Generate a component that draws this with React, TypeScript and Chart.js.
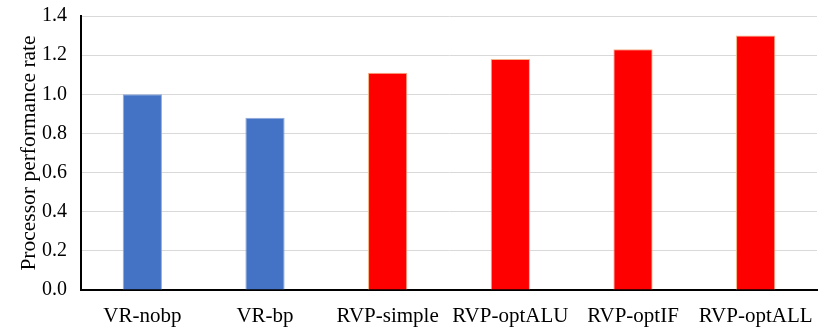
import React, { useEffect, useRef } from "react";
import { Chart, registerables } from "chart.js";

Chart.register(...registerables);

const categories = ["VR-nobp", "VR-bp", "RVP-simple", "RVP-optALU", "RVP-optIF", "RVP-optALL"];
const values = [1.0, 0.88, 1.11, 1.18, 1.23, 1.3];
const barColors = ["#4472C4", "#4472C4", "#FF0000", "#FF0000", "#FF0000", "#FF0000"];
const barBorders = ["#8FAADC", "#8FAADC", "#F4B183", "#F4B183", "#F4B183", "#F4B183"];
const yTitle = "Processor performance rate";

export default function App() {
  const ref = useRef<HTMLCanvasElement | null>(null);
  useEffect(() => {
    document.body.style.margin = "0";
    const ctx = ref.current!;
    const chart = new Chart(ctx, {
      type: "bar",
      data: {
        labels: categories,
        datasets: [
          {
            data: values,
            backgroundColor: barColors,
            borderColor: barBorders,
            borderWidth: 1,
            barPercentage: 0.32,
            categoryPercentage: 1,
          },
        ],
      },
      options: {
        animation: false,
        responsive: true,
        maintainAspectRatio: false,
        layout: { padding: { top: 16, right: 13, left: 0, bottom: 0 } },
        plugins: { legend: { display: false }, tooltip: { enabled: false } },
        scales: {
          x: {
            grid: { display: false, drawTicks: false },
            border: { display: true, color: "#000000", width: 2 },
            ticks: {
              color: "#000000",
              padding: 14,
              maxRotation: 0,
              autoSkip: false,
              font: { family: "'Liberation Serif', 'Times New Roman', serif", size: 21 },
            },
            afterFit: (s: any) => {
              s.height = 44;
              s.paddingLeft = 0;
              s.paddingRight = 0;
            },
          },
          y: {
            min: 0,
            max: 1.4,
            ticks: {
              stepSize: 0.2,
              color: "#000000",
              padding: 14,
              font: { family: "'Liberation Serif', 'Times New Roman', serif", size: 20 },
              callback: (v: any) => Number(v).toFixed(1),
            },
            grid: { color: "#D9D9D9", lineWidth: 1, drawTicks: false },
            border: { display: true, color: "#000000", width: 2 },
            title: {
              display: true,
              text: yTitle,
              color: "#000000",
              padding: { top: 16, bottom: 0 },
              font: { family: "'Liberation Serif', 'Times New Roman', serif", size: 21.5 },
            },
            afterFit: (s: any) => {
              s.width = 81;
              s.paddingTop = 0;
              s.paddingBottom = 0;
            },
          },
        },
      },
    });
    return () => chart.destroy();
  }, []);
  return (
    <div style={{ position: "relative", width: 830, height: 334 }}>
      <canvas ref={ref} />
    </div>
  );
}
